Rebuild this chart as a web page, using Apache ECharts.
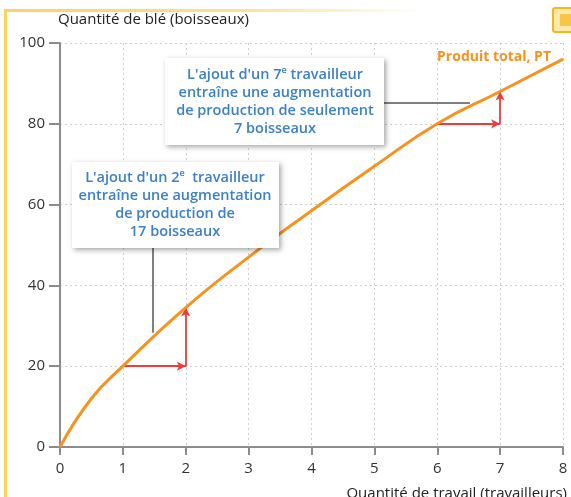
<!DOCTYPE html>
<html>
<head>
<meta charset="utf-8">
<script src="https://cdn.jsdelivr.net/npm/echarts@6/dist/echarts.min.js"></script>
<style>
html,body{margin:0;padding:0;background:#fff;}
#chart{width:571px;height:497px;}
</style>
</head>
<body>
<div id="chart"></div>
<script>
// Data
const workers = [0, 0.5, 1, 2, 3, 4, 5, 6, 7, 8];
const totalProduct = [0, 12, 20, 34.5, 47, 58.5, 69.5, 80, 88, 96];
const xTickLabels = ['0','1','2','3','4','5','6','7','8'];
const yTickLabels = ['0','20','40','60','80','100'];
const yAxisTitle = 'Quantité de blé (boisseaux)';
const xAxisTitle = 'Quantité de travail (travailleurs)';
const curveLabel = 'Produit total, PT';
const note7 = ["L'ajout d'un 7{sup|e} travailleur", 'entraîne une augmentation', 'de production de seulement', '7 boisseaux'];
const note2 = ["L'ajout d'un 2{sup|e}  travailleur", 'entraîne une augmentation', 'de production de', '17 boisseaux'];

const FONT = '"Open Sans", "Noto Sans", sans-serif';
const valueAt = x => totalProduct[workers.indexOf(x)];

function stepArrows(x0, x1) {
  const y0 = valueAt(x0), y1 = valueAt(x1);
  return [
    [{coord: [x0, y0]}, {coord: [x1, y0]}],
    [{coord: [x1, y0]}, {coord: [x1, y1]}]
  ];
}

const chart = echarts.init(document.getElementById('chart'), null, {renderer: 'canvas'});
const axisColor = '#8c8c8c';
const noteStyle = {
  fill: '#3b80c8', fontSize: 14.5, fontWeight: 600, fontFamily: FONT, lineHeight: 18,
  align: 'center', verticalAlign: 'middle',
  rich: { sup: { fontSize: 9, fontWeight: 600, fontFamily: FONT, fill: '#3b80c8', verticalAlign: 'top', lineHeight: 14 } }
};

chart.setOption({
  animation: false,
  grid: {left: 60, right: 8, top: 43, bottom: 50},
  xAxis: {
    type: 'value', min: 0, max: 8, interval: 1,
    axisLine: {lineStyle: {color: axisColor, width: 2}},
    axisTick: {show: true, length: 8, lineStyle: {color: axisColor, width: 2}},
    axisLabel: {color: '#333', fontSize: 15, fontFamily: FONT, margin: 14,
      formatter: v => xTickLabels[Math.round(v)]},
    splitLine: {show: true, lineStyle: {type: [2, 3], color: '#cfcfcf', width: 1}}
  },
  yAxis: {
    type: 'value', min: 0, max: 100, interval: 20,
    axisLine: {show: true, lineStyle: {color: axisColor, width: 2}},
    axisTick: {show: true, length: 11, lineStyle: {color: axisColor, width: 2}},
    axisLabel: {color: '#333', fontSize: 15, fontFamily: FONT, margin: 15,
      formatter: v => yTickLabels[Math.round(v / 20)]},
    splitLine: {show: true, lineStyle: {type: [2, 3], color: '#cfcfcf', width: 1}}
  },
  series: [
    {
      type: 'line', silent: true,
      data: workers.map((x, i) => [x, totalProduct[i]]),
      smooth: 0.5, showSymbol: false,
      lineStyle: {color: '#f7921e', width: 3},
      z: 5
    },
    {
      type: 'line', data: [], silent: true,
      markLine: {
        silent: true, symbol: ['none', 'arrow'], symbolSize: [7, 9],
        label: {show: false},
        lineStyle: {color: '#ef3b3b', width: 1.8, type: 'solid'},
        data: stepArrows(1, 2).concat(stepArrows(6, 7))
      },
      z: 4
    },
    {
      type: 'line', data: [], silent: true,
      markLine: {
        silent: true, symbol: ['none', 'none'],
        label: {show: false},
        lineStyle: {color: '#7f7f7f', width: 2, type: 'solid'},
        data: [
          [{coord: [5.13, 85.3]}, {coord: [6.52, 85.3]}],
          [{coord: [1.48, 49.6]}, {coord: [1.48, 28.3]}]
        ]
      },
      z: 3
    }
  ],
  graphic: [
    // book page frame
    {type: 'rect', shape: {x: 4, y: 9, width: 3, height: 488}, style: {fill: '#fcd35b'}, silent: true},
    {type: 'rect', shape: {x: 4, y: 9, width: 420, height: 3}, silent: true,
      style: {fill: {type: 'linear', x: 0, y: 0, x2: 1, y2: 0, colorStops: [
        {offset: 0, color: '#fcd35b'}, {offset: 0.55, color: '#fde08a'}, {offset: 1, color: 'rgba(253,224,138,0)'}]}}},
    {type: 'rect', shape: {x: 553, y: 8, width: 22, height: 24, r: 2}, silent: true,
      style: {fill: '#fde9a8', stroke: '#f5b623', lineWidth: 2}},
    {type: 'rect', shape: {x: 560, y: 14, width: 14, height: 12}, silent: true,
      style: {fill: '#f7c54a'}},
    // axis titles
    {type: 'text', x: 58, y: 20, silent: true,
      style: {text: yAxisTitle, fill: '#222', fontSize: 15, fontFamily: FONT, verticalAlign: 'middle', align: 'left'}},
    {type: 'text', x: 567, y: 494, silent: true,
      style: {text: xAxisTitle, fill: '#222', fontSize: 15, fontFamily: FONT, verticalAlign: 'middle', align: 'right'}},
    // curve label
    {type: 'text', x: 551, y: 57, silent: true,
      style: {text: curveLabel, fill: '#f7921e', fontSize: 14, fontWeight: 'bold', fontFamily: FONT, verticalAlign: 'middle', align: 'right'}},
    // annotation boxes
    {type: 'rect', shape: {x: 165, y: 58, width: 219, height: 87}, silent: true, z: 10,
      style: {fill: '#fff', shadowBlur: 5, shadowOffsetX: 2, shadowOffsetY: 2, shadowColor: 'rgba(0,0,0,0.35)'}},
    {type: 'text', x: 275, y: 102, silent: true, z: 11,
      style: Object.assign({text: note7.join('\n')}, noteStyle)},
    {type: 'rect', shape: {x: 72, y: 162, width: 207, height: 86}, silent: true, z: 10,
      style: {fill: '#fff', shadowBlur: 5, shadowOffsetX: 2, shadowOffsetY: 2, shadowColor: 'rgba(0,0,0,0.35)'}},
    {type: 'text', x: 175, y: 205, silent: true, z: 11,
      style: Object.assign({text: note2.join('\n')}, noteStyle)}
  ]
});
</script>
</body>
</html>
